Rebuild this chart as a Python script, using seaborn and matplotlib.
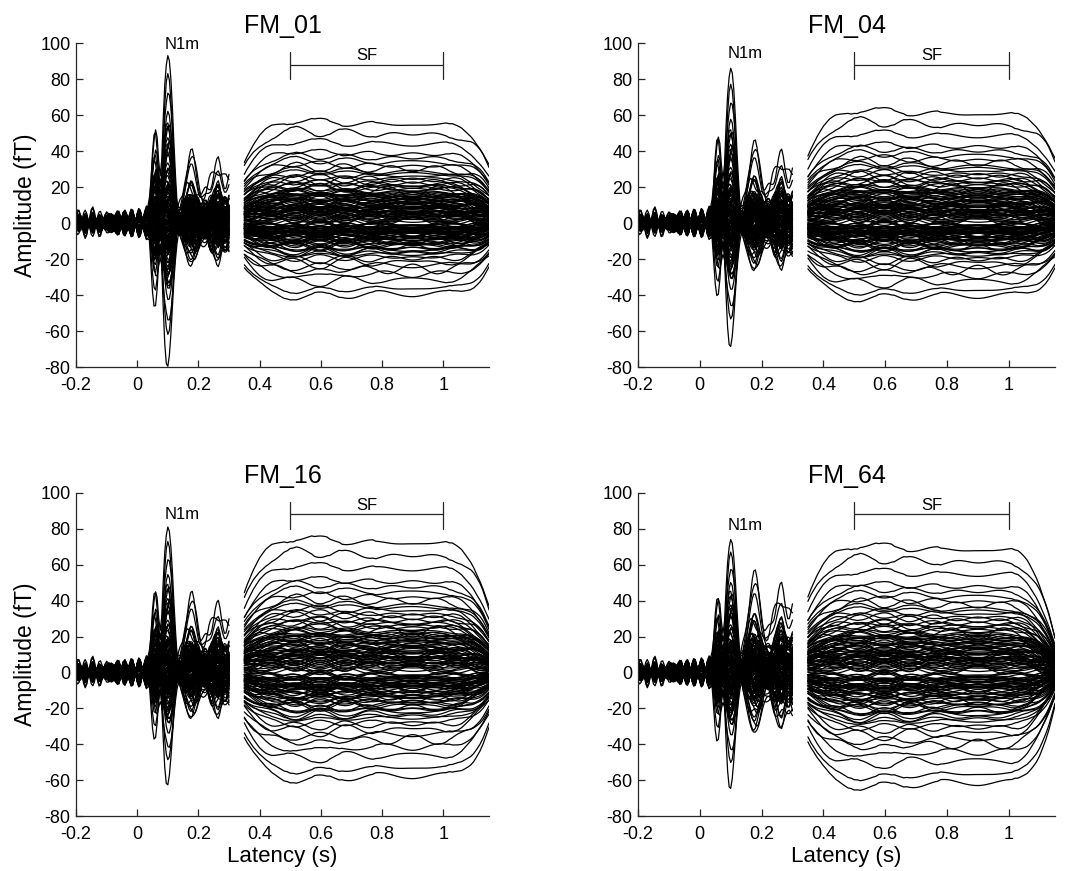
import numpy as np
import pandas as pd
import matplotlib
matplotlib.use("Agg")
import matplotlib.pyplot as plt
import seaborn as sns

# ---------- panels ----------
conditions = ["FM_01", "FM_04", "FM_16", "FM_64"]
n1m_pos_peak = [95, 88, 83, 76]        # fT, largest positive N1m
n1m_neg_peak = [-77, -66, -60, -62]    # fT, largest negative N1m
late_peak = [36, 41, 40, 52]           # fT, 150-300 ms activity
sf_pos_peak = [57, 63, 75, 71]         # fT, sustained field top
sf_neg_peak = [-41, -42, -60, -64]     # fT, sustained field bottom
sf_end_drop = [0.0, 0.0, 0.08, 0.30]   # extra fall-off after 1 s
n1m_label_y = [99, 94, 88, 82]

# ---------- waveform shapes ----------
# N1m segment, -0.2 .. 0.3 s every 5 ms
evoked_n1m = (
    [0.0] * 40
    + [0.0, 0.0, 0.0, 0.0, 0.0, 0.0, 0.02, 0.06, 0.14, 0.27,
       0.42, 0.53, 0.57, 0.50, 0.34, 0.24, 0.34, 0.60, 0.82, 0.95,
       1.00, 0.96, 0.84, 0.66, 0.45, 0.27, 0.12, 0.03, -0.02, -0.01,
       0.02, 0.05, 0.08, 0.10, 0.11, 0.11, 0.10, 0.08, 0.06, 0.05,
       0.04, 0.04, 0.05, 0.06, 0.07, 0.08, 0.08, 0.08, 0.07, 0.06,
       0.06, 0.06, 0.07, 0.08, 0.08, 0.08, 0.07, 0.06, 0.06, 0.05,
       0.05]
)
late_wave = (
    [0.0] * 60
    + [0.0, 0.0, 0.0, 0.0, 0.02, 0.05, 0.10, 0.17, 0.27, 0.39,
       0.52, 0.65, 0.77, 0.87, 0.95, 0.99, 1.00, 0.97, 0.90, 0.79,
       0.66, 0.54, 0.45, 0.40, 0.39, 0.42, 0.49, 0.58, 0.67, 0.75,
       0.81, 0.85, 0.86, 0.84, 0.80, 0.75, 0.71, 0.68, 0.67, 0.68,
       0.70]
)
noise_wave_1 = [
    0.1, 0.6, 0.9, 0.7, 0.1, -0.5, -0.9, -0.8, -0.3, 0.3,
    0.8, 1.0, 0.6, 0.0, -0.6, -0.9, -0.6, -0.1, 0.4, 0.7,
    0.6, 0.2, -0.3, -0.7, -0.8, -0.4, 0.2, 0.7, 0.9, 0.6,
    0.0, -0.5, -0.8, -0.7, -0.2, 0.4, 0.8, 0.9, 0.5, -0.1,
    -0.6, -0.9, -0.7, -0.2, 0.4, 0.9, 1.0, 0.6, 0.0, -0.6,
    -1.0, -0.8, -0.2, 0.4, 0.8, 0.8, 0.3, -0.3, -0.8, -0.9,
    -0.4, 0.2, 0.7, 0.9, 0.6, 0.0, -0.6, -0.9, -0.7, -0.1,
    0.5, 0.9, 0.8, 0.3, -0.3, -0.8, -0.9, -0.5, 0.1, 0.6,
    0.9, 0.7, 0.2, -0.4, -0.8, -0.8, -0.3, 0.3, 0.8, 0.9,
    0.5, -0.1, -0.6, -0.9, -0.6, 0.0, 0.5, 0.8, 0.7, 0.2,
    -0.3,
]
noise_wave_2 = [
    0.8, 0.9, 0.6, 0.1, -0.4, -0.8, -0.9, -0.6, -0.1, 0.4,
    0.8, 0.9, 0.7, 0.2, -0.3, -0.7, -0.9, -0.7, -0.2, 0.3,
    0.7, 0.9, 0.8, 0.4, -0.1, -0.6, -0.9, -0.8, -0.4, 0.1,
    0.6, 0.9, 0.8, 0.4, -0.2, -0.7, -0.9, -0.7, -0.3, 0.2,
    0.6, 0.9, 0.9, 0.5, 0.0, -0.5, -0.9, -0.9, -0.5, 0.0,
    0.5, 0.9, 0.9, 0.5, 0.0, -0.5, -0.8, -0.9, -0.6, -0.1,
    0.4, 0.8, 0.9, 0.7, 0.2, -0.3, -0.7, -0.9, -0.7, -0.3,
    0.2, 0.6, 0.9, 0.8, 0.4, -0.1, -0.6, -0.9, -0.8, -0.4,
    0.1, 0.6, 0.9, 0.8, 0.4, -0.1, -0.6, -0.9, -0.8, -0.4,
    0.1, 0.5, 0.8, 0.9, 0.6, 0.1, -0.4, -0.8, -0.9, -0.6,
    -0.1,
]

# SF segment, 0.35 .. 1.15 s every 10 ms
sustained_wave = (
    [0.60, 0.66, 0.71, 0.76, 0.80, 0.84, 0.87, 0.90, 0.92, 0.94, 0.95,
     0.96, 0.97, 0.98, 0.98, 0.99,
     0.99, 1.00, 1.00, 1.00, 1.00, 1.00, 1.00, 0.99, 0.99, 0.99,
     0.99, 0.99, 0.98, 0.98, 0.98, 0.98, 0.97, 0.97, 0.97, 0.97]
    + [0.97] * 7 + [0.96] * 24
    + [0.95, 0.95, 0.94, 0.93, 0.92, 0.90, 0.88, 0.86, 0.83,
       0.79, 0.75, 0.70, 0.64, 0.58]
)
end_fall = (
    [0.0] * 66
    + [0.0, -0.01, -0.03, -0.06, -0.10, -0.15, -0.21, -0.28, -0.36,
       -0.45, -0.55, -0.65, -0.75, -0.87, -1.0]
)
slow_wave_1 = [
    0.0, 0.3, 0.6, 0.8, 0.95, 1.0, 0.9, 0.7, 0.45, 0.15,
    -0.15, -0.45, -0.7, -0.88, -0.98, -1.0, -0.9, -0.7, -0.45, -0.15,
    0.15, 0.45, 0.7, 0.88, 0.98, 1.0, 0.92, 0.75, 0.5, 0.2,
    -0.1, -0.4, -0.65, -0.85, -0.95, -0.98, -0.9, -0.72, -0.48, -0.2,
    0.1, 0.4, 0.65, 0.85, 0.97, 1.0, 0.93, 0.76, 0.52, 0.24,
    -0.06, -0.36, -0.62, -0.82, -0.95, -1.0, -0.94, -0.78, -0.54, -0.26,
    0.04, 0.34, 0.6, 0.8, 0.94, 1.0, 0.96, 0.82, 0.6, 0.32,
    0.02, -0.28, -0.55, -0.76, -0.9, -0.97, -0.96, -0.86, -0.68, -0.44,
    -0.16,
]
slow_wave_2 = [
    0.8, 0.95, 1.0, 0.9, 0.65, 0.3, -0.1, -0.5, -0.8, -0.97,
    -1.0, -0.85, -0.55, -0.15, 0.25, 0.62, 0.88, 1.0, 0.95, 0.72,
    0.38, -0.02, -0.42, -0.75, -0.95, -1.0, -0.88, -0.6, -0.22, 0.2,
    0.58, 0.86, 1.0, 0.96, 0.76, 0.44, 0.05, -0.35, -0.7, -0.93,
    -1.0, -0.9, -0.64, -0.28, 0.14, 0.52, 0.82, 0.98, 0.98, 0.8,
    0.5, 0.1, -0.3, -0.66, -0.9, -1.0, -0.92, -0.7, -0.36, 0.06,
    0.46, 0.78, 0.96, 1.0, 0.86, 0.58, 0.2, -0.2, -0.58, -0.86,
    -1.0, -0.96, -0.74, -0.4, 0.0, 0.4, 0.74, 0.96, 1.0, 0.86,
    0.56,
]

# ---------- per-sensor weights (relative) ----------
n1m_gain = [
    1.00, -0.05, 0.12, -1.00, 0.30, -0.18, 0.02, 0.58, -0.40, 0.08, -0.10, 0.22,
    0.84, -0.78, 0.04, -0.26, 0.45, -0.02, 0.15, -0.50, 0.36, -0.12, 0.06, -0.32,
    0.78, -0.08, 0.26, -0.74, 0.10, -0.22, 0.60, -0.04, 0.18, -0.44, 0.03, -0.15,
    0.63, -0.36, 0.07, -0.52, 0.40, -0.06, 0.20, -0.28, 0.55, -0.01, 0.12, -0.20,
    0.52, -0.46, 0.01, -0.14, 0.33, -0.09, 0.24, -0.38, 0.48, -0.03, 0.09, -0.24,
    0.44, -0.30, 0.05, -0.12, 0.28, -0.07, 0.16, -0.34, 0.38, -0.11, 0.13, -0.42,
    0.20, -0.16, 0.09, -0.05, 0.14, -0.22, 0.03, -0.12, 0.26, -0.08, 0.11, -0.18,
    0.06, -0.10, 0.17, -0.03, 0.22, -0.14, 0.08, -0.24, 0.12, -0.06, 0.30, -0.09,
    0.15, -0.20, 0.04, -0.11, 0.19, -0.04, 0.10, -0.16, 0.07, -0.27, 0.13, -0.02,
    0.05, -0.13, 0.21, -0.07, 0.02, -0.19, 0.11, -0.01, 0.16, -0.10, 0.04, -0.15,
    -0.04, 0.09, -0.21, 0.13, -0.06, 0.03, -0.17, 0.25, -0.12, 0.07, -0.08, 0.18,
]
late_gain = [
    0.20, -0.35, 0.55, 0.10, -0.60, 0.30, -0.15, 0.85, 0.05, -0.25, 0.40, -0.08,
    -0.12, 0.18, 1.00, -0.45, 0.08, 0.35, -0.22, 0.12, -0.70, 0.28, -0.05, 0.48,
    0.15, -0.30, 0.06, 0.25, -0.18, 0.62, -0.10, 0.38, 0.02, -0.40, 0.22, 0.10,
    -0.28, 0.45, -0.06, 0.16, 0.74, -0.20, 0.30, -0.55, 0.12, 0.26, -0.14, 0.36,
    0.08, -0.16, 0.32, -0.38, 0.20, 0.04, -0.48, 0.24, -0.10, 0.56, -0.26, 0.14,
    0.42, -0.04, 0.18, -0.22, 0.10, -0.34, 0.28, 0.06, -0.20, 0.15, 0.50, -0.12,
    -0.18, 0.12, -0.30, 0.22, -0.08, 0.16, 0.34, -0.12, 0.06, -0.24, 0.10, 0.28,
    0.14, -0.20, 0.04, 0.30, -0.14, 0.08, -0.32, 0.18, 0.26, -0.06, 0.12, -0.16,
    -0.10, 0.24, -0.26, 0.02, 0.16, -0.12, 0.20, -0.04, 0.36, -0.18, 0.08, 0.22,
    0.12, -0.08, 0.20, -0.16, 0.04, 0.26, -0.10, 0.14, -0.22, 0.06, 0.18, -0.02,
    -0.14, 0.22, 0.08, -0.06, 0.30, -0.24, 0.10, 0.02, -0.18, 0.16, -0.12, 0.04,
]
sf_gain = [
    1.00, -0.30, 0.12, -1.00, 0.45, 0.05, -0.20, 0.70, -0.55, 0.25, -0.08, 0.38,
    0.90, -0.42, 0.18, -0.92, 0.32, -0.12, 0.08, 0.62, -0.35, 0.15, -0.65, 0.28,
    0.80, -0.16, 0.40, -0.80, 0.22, -0.04, 0.10, 0.55, -0.48, 0.30, -0.26, 0.02,
    0.66, -0.60, 0.14, -0.24, 0.50, -0.38, 0.06, 0.35, -0.10, 0.44, -0.72, 0.20,
    0.58, -0.14, 0.26, -0.50, 0.04, -0.32, 0.48, 0.16, -0.22, 0.36, -0.44, 0.09,
    0.52, -0.28, 0.11, -0.18, 0.42, -0.06, 0.24, -0.40, 0.30, -0.02, 0.19, -0.34,
    0.22, -0.12, 0.15, -0.30, 0.08, -0.20, 0.34, -0.06, 0.18, -0.26, 0.12, -0.16,
    0.28, -0.08, 0.10, -0.22, 0.38, -0.14, 0.05, -0.28, 0.24, -0.10, 0.16, -0.04,
    0.13, -0.18, 0.32, -0.02, 0.20, -0.24, 0.07, -0.12, 0.26, -0.36, 0.14, -0.08,
    -0.14, 0.18, -0.06, 0.09, -0.22, 0.27, -0.16, 0.12, -0.03, 0.21, -0.11, 0.06,
    0.17, -0.20, 0.03, -0.09, 0.23, -0.15, 0.29, -0.05, 0.10, -0.13, 0.01, 0.15,
]
# sensor noise in fT
noise_gain_1 = [
    3.0, -4.5, 2.0, 5.5, -1.5, 4.0, -3.0, 1.0, -5.0, 2.5, -2.0, 6.0,
    -3.5, 1.5, -6.0, 3.0, 4.5, -1.0, 2.0, -4.0, 0.5, 5.0, -2.5, 3.5,
    4.0, -2.0, 1.0, -5.5, 3.5, -3.0, 6.5, -1.5, 2.5, -4.0, 1.5, -3.5,
    -2.0, 5.0, -4.5, 1.0, -3.0, 4.5, -1.0, 3.0, -6.0, 2.0, 4.0, -2.5,
    2.0, -3.5, 5.5, -2.0, 1.5, -4.5, 3.0, -1.0, 4.0, -5.0, 2.5, 1.0,
    -4.0, 3.0, -1.5, 4.5, -2.5, 1.0, -5.0, 3.5, -2.0, 6.0, -3.0, 0.5,
    1.5, -2.5, 3.5, -1.0, 2.0, -3.0, 4.0, -1.5, 0.5, -3.5, 2.5, -4.0,
    -1.5, 3.0, -2.0, 4.5, -0.5, 2.0, -3.5, 1.0, -2.5, 3.5, -1.0, 2.5,
    3.0, -1.0, -2.5, 2.0, -4.0, 1.5, -2.0, 3.5, -3.0, 0.5, 1.0, -1.5,
    -2.5, 1.5, 3.0, -3.5, 1.0, -1.5, 2.5, -2.0, 4.5, -1.0, 0.5, 3.0,
    2.0, -0.5, -3.0, 1.5, -2.0, 3.5, -1.5, -4.0, 2.5, 0.5, -2.5, 1.0,
]
noise_gain_2 = [
    -2.0, 3.5, 4.5, -1.0, 2.5, -5.0, 1.5, -3.0, 4.0, -2.5, 5.5, -1.5,
    4.5, -3.0, 1.0, -2.0, 5.0, 3.0, -4.5, 2.0, -1.5, 3.5, -5.5, 1.0,
    -1.0, 5.0, -3.5, 2.5, -4.0, 1.5, -2.0, 6.0, -3.0, 0.5, 4.5, -2.5,
    3.5, -1.5, 2.0, -5.0, 1.0, -2.5, 4.0, -3.5, 2.5, -4.5, 1.5, 5.0,
    -3.0, 2.0, -1.0, 4.5, -5.5, 3.0, -2.5, 1.5, -4.0, 2.5, -0.5, 3.5,
    1.5, -4.0, 3.0, -2.5, 5.0, -1.0, 2.0, -4.5, 3.5, -1.5, 2.5, -5.0,
    2.5, 1.0, -2.0, 3.0, -3.5, 1.5, -1.0, 2.5, -4.0, 2.0, -1.5, 0.5,
    -3.0, -1.5, 3.5, -1.0, 2.0, -2.5, 1.5, -3.0, 0.5, -2.0, 4.0, -3.5,
    1.0, -3.5, 2.0, -1.5, 2.5, -0.5, 3.0, -2.0, 1.5, -2.5, 3.5, 2.0,
    0.5, -2.5, 1.5, 3.0, -2.0, -1.0, 3.5, 1.5, -1.0, -3.0, 2.0, -3.5,
    -1.5, 3.0, 2.0, -3.0, 0.5, 1.5, -2.0, 2.5, -3.5, 1.0, 3.0, -0.5,
]
sf_noise_factor = 0.35

x_ticks = [-0.2, 0, 0.2, 0.4, 0.6, 0.8, 1]
x_tick_labels = ["-0.2", "0", "0.2", "0.4", "0.6", "0.8", "1"]
y_ticks = [-80, -60, -40, -20, 0, 20, 40, 60, 80, 100]
y_tick_labels = [str(v) for v in y_ticks]
sf_window = (0.5, 1.0)

t_n1m = np.round(np.linspace(-0.2, 0.3, len(evoked_n1m)), 3)
t_sf = np.round(np.linspace(0.35, 1.15, len(sustained_wave)), 3)


def signed_scale(gain, pos, neg):
    g = np.asarray(gain)
    return np.where(g > 0, g * pos, -g * neg)


def long_table(t, traces):
    nch, nt = traces.shape
    return pd.DataFrame({
        "t": np.tile(t, nch),
        "amp": traces.ravel(),
        "channel": np.repeat(np.arange(nch), nt),
    })


# ---------- figure ----------
sns.set_theme(style="ticks")
plt.rcParams["font.family"] = ["Liberation Sans", "DejaVu Sans"]
plt.rcParams["xtick.direction"] = "in"
plt.rcParams["ytick.direction"] = "in"

fig = plt.figure(figsize=(10.77, 8.71), dpi=100)
boxes = [
    [0.0706, 0.5786, 0.3835, 0.372],
    [0.5924, 0.5786, 0.3872, 0.372],
    [0.0706, 0.0631, 0.3835, 0.371],
    [0.5924, 0.0631, 0.3872, 0.371],
]
ink = "#262626"

for p, name in enumerate(conditions):
    ax = fig.add_axes(boxes[p])

    a = signed_scale(n1m_gain, n1m_pos_peak[p], n1m_neg_peak[p])
    b = np.asarray(late_gain) * late_peak[p]
    n1 = np.asarray(noise_gain_1)
    n2 = np.asarray(noise_gain_2)
    seg1 = (np.outer(a, evoked_n1m) + np.outer(b, late_wave)
            + np.outer(n1, noise_wave_1) + np.outer(n2, noise_wave_2))

    s = signed_scale(sf_gain, sf_pos_peak[p], sf_neg_peak[p])
    shape = np.asarray(sustained_wave) + sf_end_drop[p] * np.asarray(end_fall)
    seg2 = (np.outer(s, shape)
            + np.outer(sf_noise_factor * n1, slow_wave_1)
            + np.outer(sf_noise_factor * n2, slow_wave_2))

    for t, tr in ((t_n1m, seg1), (t_sf, seg2)):
        sns.lineplot(data=long_table(t, tr), x="t", y="amp", units="channel",
                     estimator=None, color="black", linewidth=0.9,
                     legend=False, ax=ax)

    # SF bracket and labels
    ax.plot([sf_window[0], sf_window[1]], [88, 88], color=ink, lw=0.9)
    ax.plot([sf_window[0], sf_window[0]], [80, 95], color=ink, lw=0.9)
    ax.plot([sf_window[1], sf_window[1]], [80, 95], color=ink, lw=0.9)
    ax.text(sum(sf_window) / 2, 88.8, "SF", ha="center", va="bottom",
            fontsize=12, color="black")
    ax.text(0.09, n1m_label_y[p], "N1m", ha="left", va="center",
            fontsize=12, color="black")

    ax.set_xlim(-0.2, 1.15)
    ax.set_ylim(-80, 100)
    ax.set_xticks(x_ticks)
    ax.set_xticklabels(x_tick_labels)
    ax.set_yticks(y_ticks)
    ax.set_yticklabels(y_tick_labels)
    ax.tick_params(direction="in", length=5, width=0.9, colors=ink,
                   labelsize=13, labelcolor="black")
    ax.tick_params(axis="x", pad=7)
    ax.tick_params(axis="y", pad=4)
    sns.despine(ax=ax)
    for side in ("left", "bottom"):
        ax.spines[side].set_color(ink)
        ax.spines[side].set_linewidth(0.9)

    ax.set_title(name, fontsize=18, pad=7, color="black")
    ax.set_xlabel("Latency (s)" if p >= 2 else "", fontsize=16, color="black",
                  labelpad=2)
    ax.set_ylabel("Amplitude (fT)" if p % 2 == 0 else "", fontsize=16.5,
                  color="black", labelpad=2)

fig.savefig("out.png", dpi=100)
